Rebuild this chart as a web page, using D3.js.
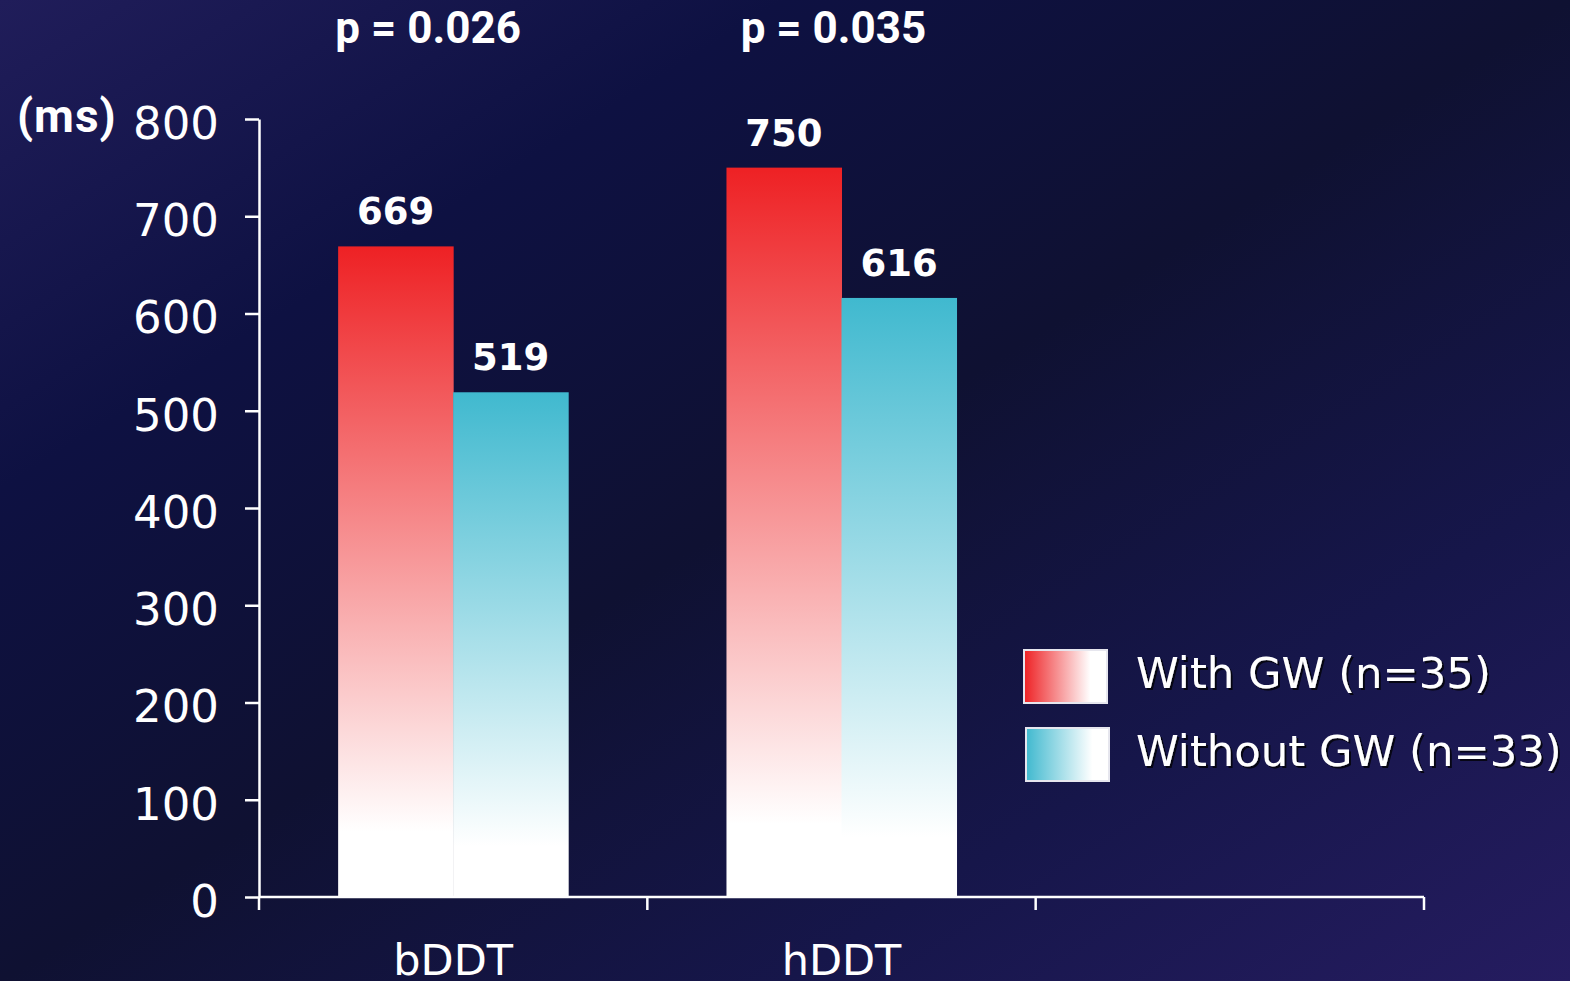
<!DOCTYPE html>
<html>
<head>
<meta charset="utf-8">
<script src="https://cdn.jsdelivr.net/npm/d3@7"></script>
<style>
  html, body { margin: 0; padding: 0; background: #0f1132; overflow: hidden; }
  svg { display: block; }
</style>
</head>
<body>
<svg id="chart" width="1570" height="981"></svg>
<script>
// Drug-delivery time by group (ms)
const categories = ["bDDT", "hDDT"];
const seriesNames = ["With GW (n=35)", "Without GW (n=33)"];
const withGW = [669, 750];
const withoutGW = [519, 616];
const pValues = ["p = 0.026", "p = 0.035"];
const yTicks = [0, 100, 200, 300, 400, 500, 600, 700, 800];
const yUnit = "(ms)";

const W = 1570, H = 981;
const plot = { left: 259, right: 1424, top: 119, bottom: 897 };
const seriesColors = ["#ee2124", "#40b9cf"];
const pLabelShift = [-25, -8];

const svg = d3.select("#chart");
const defs = svg.append("defs");

// backdrop
const bg = defs.append("linearGradient").attr("id", "bg")
  .attr("x1", 0).attr("y1", 0).attr("x2", 1).attr("y2", 1);
[[0, "#201d5a"], [0.25, "#0e1142"], [0.5, "#0f1132"], [0.75, "#16164a"], [1, "#251c60"]]
  .forEach(([o, c]) => bg.append("stop").attr("offset", o).attr("stop-color", c));
svg.append("rect").attr("width", W).attr("height", H).attr("fill", "url(#bg)");

// vertical fade for bars, horizontal fade for legend swatches
seriesColors.forEach((c, i) => {
  const gv = defs.append("linearGradient").attr("id", "barGrad" + i)
    .attr("x1", 0).attr("y1", 0).attr("x2", 0).attr("y2", 1);
  gv.append("stop").attr("offset", 0).attr("stop-color", c);
  gv.append("stop").attr("offset", 0.9).attr("stop-color", "#ffffff");
  gv.append("stop").attr("offset", 1).attr("stop-color", "#ffffff");
  const gh = defs.append("linearGradient").attr("id", "keyGrad" + i)
    .attr("x1", 0).attr("y1", 0).attr("x2", 1).attr("y2", 0);
  gh.append("stop").attr("offset", 0).attr("stop-color", c);
  gh.append("stop").attr("offset", 0.8).attr("stop-color", "#ffffff");
  gh.append("stop").attr("offset", 1).attr("stop-color", "#ffffff");
});

const shadow = defs.append("filter").attr("id", "shadow")
  .attr("x", "-5%").attr("y", "-20%").attr("width", "110%").attr("height", "140%");
shadow.append("feDropShadow").attr("dx", 2).attr("dy", 2).attr("stdDeviation", 0.6)
  .attr("flood-color", "#000").attr("flood-opacity", 0.75);

// scales: one spare slot after the categories keeps the axis length
const x0 = d3.scaleBand().domain(d3.range(categories.length + 1))
  .range([plot.left, plot.right]).padding(0);
const x1 = d3.scaleBand().domain(d3.range(seriesNames.length))
  .range([0, x0.bandwidth()]).paddingInner(0).paddingOuter(0.688);
const y = d3.scaleLinear().domain([0, 800]).range([plot.bottom, plot.top]);

// bars
const rows = categories.map((c, i) => ({ i, vals: [withGW[i], withoutGW[i]] }));
const groups = svg.selectAll("g.cat").data(rows).join("g")
  .attr("class", "cat")
  .attr("transform", d => `translate(${x0(d.i)},0)`);

groups.selectAll("rect").data(d => d.vals.map((v, s) => ({ v, s }))).join("rect")
  .attr("x", d => x1(d.s))
  .attr("y", d => y(d.v))
  .attr("width", x1.bandwidth() + 0.5)
  .attr("height", d => y(0) - y(d.v))
  .attr("fill", d => `url(#barGrad${d.s})`);

groups.selectAll("text.val").data(d => d.vals.map((v, s) => ({ v, s }))).join("text")
  .attr("class", "val")
  .attr("x", d => x1(d.s) + x1.bandwidth() / 2)
  .attr("y", d => y(d.v) - 22)
  .attr("text-anchor", "middle")
  .attr("font-family", "DejaVu Sans")
  .attr("font-weight", "bold")
  .attr("font-size", 37)
  .attr("fill", "#fff")
  .text(d => d.v);

// p-values above each category
svg.selectAll("text.p").data(pValues).join("text")
  .attr("class", "p")
  .attr("x", (d, i) => x0(i) + x0.bandwidth() / 2 + pLabelShift[i])
  .attr("y", 43)
  .attr("text-anchor", "middle")
  .attr("font-family", "Roboto")
  .attr("font-weight", "bold")
  .attr("font-size", 44)
  .attr("fill", "#fff")
  .text(d => d);

// y axis
const yAxis = svg.append("g")
  .attr("transform", `translate(${plot.left},0)`)
  .call(d3.axisLeft(y).tickValues(yTicks).tickSize(14).tickSizeOuter(0).tickPadding(26));
yAxis.select(".domain").attr("stroke", "#fff").attr("stroke-width", 2.5);
yAxis.selectAll(".tick line").attr("stroke", "#fff").attr("stroke-width", 2.5);
yAxis.selectAll(".tick text")
  .attr("fill", "#fff")
  .attr("font-family", "DejaVu Sans")
  .attr("font-size", 45)
  .attr("dy", "0.43em");

svg.append("text")
  .attr("x", 17).attr("y", 132)
  .attr("font-family", "Roboto")
  .attr("font-weight", "bold")
  .attr("font-size", 46)
  .attr("letter-spacing", 1)
  .attr("fill", "#fff")
  .text(yUnit);

// x axis: ticks at slot boundaries, labels at slot centres
const xg = svg.append("g");
xg.append("line")
  .attr("x1", plot.left).attr("x2", plot.right)
  .attr("y1", y(0)).attr("y2", y(0))
  .attr("stroke", "#fff").attr("stroke-width", 2.5);
const bounds = x0.domain().map(d => x0(d)).concat([x0.range()[1]]);
xg.selectAll("line.tick").data(bounds).join("line")
  .attr("class", "tick")
  .attr("x1", d => d).attr("x2", d => d)
  .attr("y1", y(0)).attr("y2", y(0) + 13)
  .attr("stroke", "#fff").attr("stroke-width", 2.5);
xg.selectAll("text").data(categories).join("text")
  .attr("x", (d, i) => x0(i) + x0.bandwidth() / 2)
  .attr("y", 975)
  .attr("text-anchor", "middle")
  .attr("font-family", "DejaVu Sans")
  .attr("font-size", 43)
  .attr("fill", "#fff")
  .text(d => d);

// legend
const legend = svg.append("g").attr("transform", "translate(1024,650)");
const items = legend.selectAll("g").data(seriesNames).join("g")
  .attr("transform", (d, i) => `translate(${i * 2},${i * 78})`);
items.append("rect")
  .attr("width", 83).attr("height", 53)
  .attr("fill", (d, i) => `url(#keyGrad${i})`)
  .attr("stroke", "#e6e6ee").attr("stroke-width", 2);
items.append("text")
  .attr("x", (d, i) => 112 - i * 2)
  .attr("y", 38)
  .attr("font-family", "DejaVu Sans")
  .attr("font-size", 43.3)
  .attr("fill", "#fff")
  .attr("filter", "url(#shadow)")
  .text(d => d);
</script>
</body>
</html>
